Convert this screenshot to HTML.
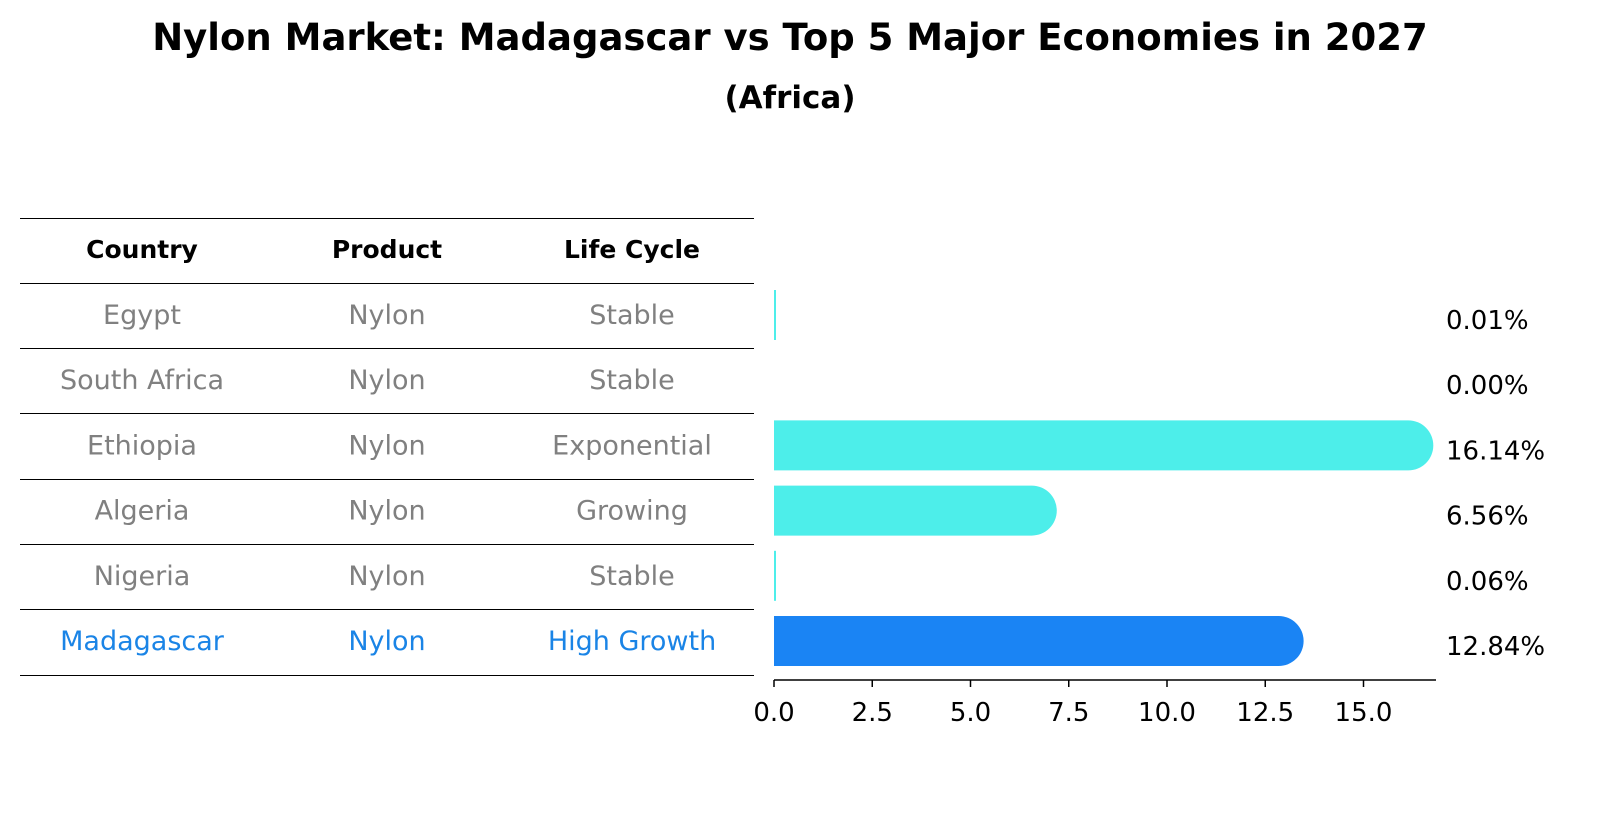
<!DOCTYPE html>
<html><head><meta charset="utf-8"><style>
body{margin:0;background:#fff}
svg text{font-family:"DejaVu Sans","Liberation Sans",sans-serif}
</style></head><body>
<svg width="1604" height="823" xmlns="http://www.w3.org/2000/svg">
<text x="790" y="50" text-anchor="middle" font-size="37" font-weight="bold">Nylon Market: Madagascar vs Top 5 Major Economies in 2027</text>
<text x="790" y="108" text-anchor="middle" font-size="31" font-weight="bold">(Africa)</text>
<g id="table"></g>
<g id="bars"></g>
</svg>
<script>
const countries=["Egypt","South Africa","Ethiopia","Algeria","Nigeria","Madagascar"];
const products=["Nylon","Nylon","Nylon","Nylon","Nylon","Nylon"];
const lifeCycles=["Stable","Stable","Exponential","Growing","Stable","High Growth"];
const values=[0.01,0.00,16.14,6.56,0.06,12.84];
const valueLabels=["0.01%","0.00%","16.14%","6.56%","0.06%","12.84%"];
const ticks=[0,2.5,5,7.5,10,12.5,15];
const tickLabels=["0.0","2.5","5.0","7.5","10.0","12.5","15.0"];

const NS="http://www.w3.org/2000/svg";
function mk(parent,tag,attrs,txt){const e=document.createElementNS(NS,tag);for(const k in attrs)e.setAttribute(k,attrs[k]);if(txt!==undefined)e.textContent=txt;parent.appendChild(e);return e;}
const x=v=>774+v*39.3;
const rowY=i=>315+i*65.2;
const table=document.getElementById('table');
const bars=document.getElementById('bars');
const lines=[218.5,283.5,348.5,413.5,479.5,544.5,609.5,675.5];
lines.forEach(y=>{const l=mk(table,'line',{x1:20,x2:754,y1:y,y2:y,stroke:'#000','stroke-width':1});

});
const cols=[142,387,632];
["Country","Product","Life Cycle"].forEach((h,j)=>{const t=mk(table,'text',{x:cols[j],y:258,'text-anchor':'middle','font-size':25,'font-weight':'bold'},h);

});
countries.forEach((c,i)=>{
  const col=i===countries.length-1?'#1a84e6':'#808080';
  [c,products[i],lifeCycles[i]].forEach((s,j)=>{const t=mk(table,'text',{x:cols[j],y:rowY(i)+9,'text-anchor':'middle','font-size':27,fill:col},s);
  
  });
  const w=Math.max(x(values[i])-774,0);
  const top=rowY(i)-25,h=50;
  const fill=i===countries.length-1?'#1a84f4':'#4deeea';
  if(values[i]>0){
    let d;
    if(w<3){d=`M774,${top} h2 v${h} h-2 Z`;}
    else{d=`M774,${top} H${774+w} A25,25 0 0 1 ${774+w},${top+h} H774 Z`;}
    const p=mk(bars,'path',{d:d,fill:fill});
    
    
  }
  const vl=mk(bars,'text',{x:1446,y:rowY(i)+14,'font-size':26},valueLabels[i]);
  
  
});
const ax=mk(bars,'line',{x1:774,x2:1436,y1:680,y2:680,stroke:'#000','stroke-width':1.5});


ticks.forEach((t,i)=>{const tk=mk(bars,'line',{x1:x(t),x2:x(t),y1:680,y2:687,stroke:'#000','stroke-width':1.5});


const tl=mk(bars,'text',{x:x(t),y:721,'text-anchor':'middle','font-size':26},tickLabels[i]);

});
</script>
</body></html>
